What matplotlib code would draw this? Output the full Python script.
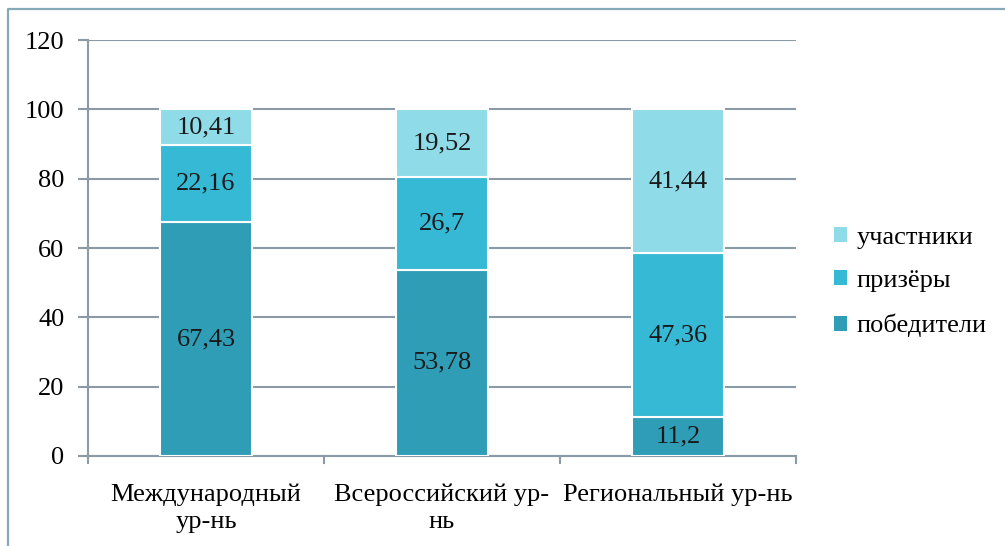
import matplotlib
matplotlib.use("Agg")
import matplotlib.pyplot as plt
from matplotlib.lines import Line2D
import numpy as np

categories = ["Международный\nур-нь", "Всероссийский ур-\nнь", "Региональный ур-нь"]
winners = [67.43, 53.78, 11.2]
prizes = [22.16, 26.7, 47.36]
participants = [10.41, 19.52, 41.44]
series_names = ["победители", "призёры", "участники"]
colors = ["#2F9DB6", "#36B9D5", "#8FDCE8"]
y_ticks = [0, 20, 40, 60, 80, 100, 120]

plt.rcParams['font.family'] = ['Liberation Serif', 'DejaVu Serif']
FS = 19
GRID = "#8A9BA5"

fig = plt.figure(figsize=(10.05, 5.46), dpi=100)
fig.lines.append(Line2D([8/1005, 8/1005, 1.0], [0.0, 1 - 9/546, 1 - 9/546],
                        transform=fig.transFigure, color="#86A9B8", linewidth=1.6))
ax = fig.add_axes([88/1005, 1 - 456/546, 708/1005, 416/546])

x = np.arange(len(categories))
w = 0.39
bottom = np.zeros(len(categories))
for vals, c, name in zip([winners, prizes, participants], colors, series_names):
    ax.bar(x, vals, w, bottom=bottom, color=c, edgecolor="white", linewidth=1.5,
           label=name, zorder=3)
    for xi, v, bt in zip(x, vals, bottom):
        ax.text(xi, bt + v / 2, f"{v:g}".replace(".", ","), ha="center", va="center",
                fontsize=FS, color="#1a1a1a", zorder=4)
    bottom = bottom + np.array(vals)

ax.set_xlim(-0.5, len(categories) - 0.5)
ax.set_ylim(0, 120)
ax.set_yticks(y_ticks)
ax.set_yticklabels([str(t) for t in y_ticks], fontsize=FS)
ax.set_xticks(x)
ax.set_xticklabels(categories, fontsize=FS, linespacing=1.3)
ax.tick_params(axis='x', length=0, pad=20)
ax.tick_params(axis='y', length=7, color=GRID, width=1.5, pad=10, direction='out')
for b in np.arange(-0.5, len(categories), 1.0):
    ax.plot([b, b], [0, -2.0], color=GRID, lw=1.5, clip_on=False, zorder=2)
ax.grid(axis='y', color=GRID, linewidth=1.5, zorder=0)
for s in ["top", "right"]:
    ax.spines[s].set_visible(False)
for s in ["left", "bottom"]:
    ax.spines[s].set_color(GRID)
    ax.spines[s].set_linewidth(1.5)

handles, labels = ax.get_legend_handles_labels()
leg = fig.legend(handles[::-1], labels[::-1], loc="center left",
                 bbox_to_anchor=(810/1005, 1 - 282/546), frameon=False, fontsize=FS,
                 handlelength=0.5, handleheight=0.5, handletextpad=0.35, labelspacing=0.82)
for h in leg.legend_handles:
    h.set_edgecolor("none")

fig.savefig("out.png", dpi=100)
